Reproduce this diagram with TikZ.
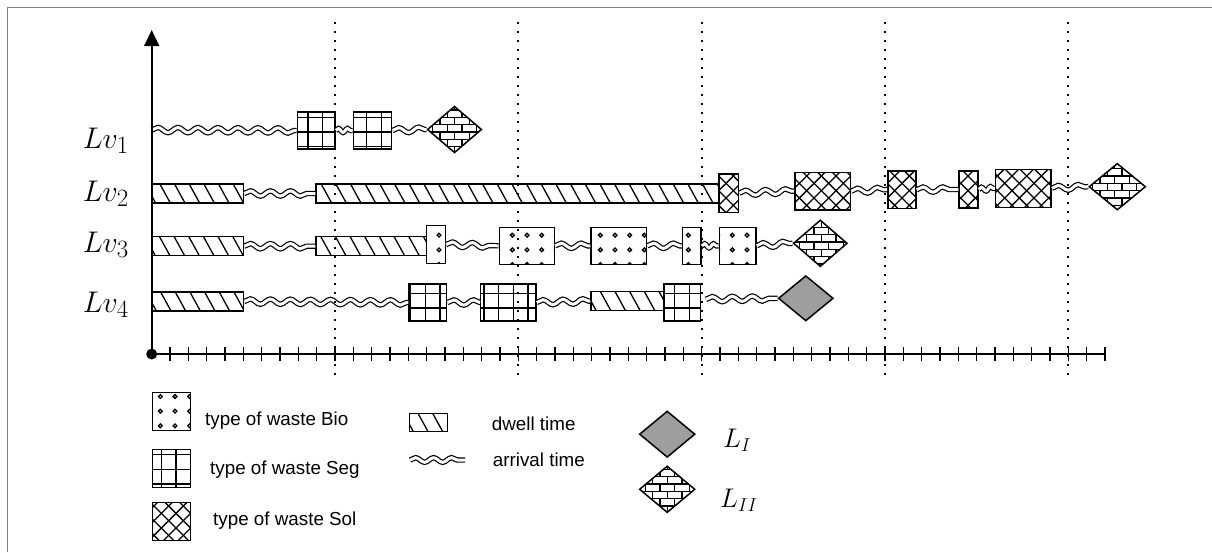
\documentclass[tikz,border=0pt]{standalone}
\usepackage{fontspec}
\setsansfont{Liberation Sans}
\usetikzlibrary{arrows.meta,shapes.geometric,decorations.pathmorphing,fit}

\def\wpp{14.6667}
\def\wph{7.3333}
\def\wpd{14.6667}
\def\wds{0.55}

% Bio: dots
\newcommand\patBio[4]{%
 \pgfmathtruncatemacro\wia{floor((#1)/\wpp)-1}%
 \pgfmathtruncatemacro\wib{ceil((#3)/\wpp)+1}%
 \pgfmathtruncatemacro\wja{floor((#2)/\wpp)-1}%
 \pgfmathtruncatemacro\wjb{ceil((#4)/\wpp)+1}%
 \foreach \i in {\wia,...,\wib}{\foreach \j in {\wja,...,\wjb}{%
   \draw[dotring] ({\i*\wpp-1},{\j*\wpp+0.5}) circle (1.9pt);}}}
% Seg: grid
\newcommand\patSeg[4]{%
 \pgfmathtruncatemacro\wia{floor((#1)/\wpp)}%
 \pgfmathtruncatemacro\wib{ceil((#3)/\wpp)}%
 \pgfmathtruncatemacro\wja{floor((#2)/\wpp)}%
 \pgfmathtruncatemacro\wjb{ceil((#4)/\wpp)}%
 \foreach \i in {\wia,...,\wib}{\draw[patline] ({\i*\wpp},#2) -- ({\i*\wpp},#4);}%
 \foreach \j in {\wja,...,\wjb}{\draw[patline] (#1,{\j*\wpp}) -- (#3,{\j*\wpp});}}
% Sol: cross hatch
\newcommand\patSol[4]{%
 \pgfmathtruncatemacro\wka{floor((#1+#2)/\wpp)}%
 \pgfmathtruncatemacro\wkb{ceil((#3+#4)/\wpp)}%
 \foreach \k in {\wka,...,\wkb}{\draw[patline] ({\k*\wpp-(#2)},#2) -- ({\k*\wpp-(#4)},#4);}%
 \pgfmathtruncatemacro\wka{floor((#1-(#4))/\wpp)}%
 \pgfmathtruncatemacro\wkb{ceil((#3-(#2))/\wpp)}%
 \foreach \k in {\wka,...,\wkb}{\draw[patline] ({\k*\wpp+(#2)},#2) -- ({\k*\wpp+(#4)},#4);}}
% Dwell: diagonal stripes
\newcommand\patDw[4]{%
 \pgfmathtruncatemacro\wka{floor((#1-\wds*(#4))/\wpd)-1}%
 \pgfmathtruncatemacro\wkb{ceil((#3-\wds*(#2))/\wpd)+1}%
 \foreach \k in {\wka,...,\wkb}{\draw[patline] ({\k*\wpd+\wds*(#2)},#2) -- ({\k*\wpd+\wds*(#4)},#4);}}
% Bricks
\newcommand\patBri[4]{%
 \pgfmathtruncatemacro\wja{floor((#2)/\wph)}%
 \pgfmathtruncatemacro\wjb{ceil((#4)/\wph)}%
 \pgfmathtruncatemacro\wia{floor((#1)/\wpp)-1}%
 \pgfmathtruncatemacro\wib{ceil((#3)/\wpp)+1}%
 \foreach \j in {\wja,...,\wjb}{%
   \draw[patline] ({#1},{\j*\wph}) -- ({#3},{\j*\wph});
   \pgfmathsetmacro\woff{mod(\j,2)*\wph}%
   \foreach \i in {\wia,...,\wib}{\draw[patline] ({\i*\wpp+\woff},{\j*\wph}) -- ({\i*\wpp+\woff},{(\j+1)*\wph});}}}

% box: name, type, x1, y1, x2, y2
\newcommand\wbox[6]{%
 \begin{scope}\clip (#3,#4) rectangle (#5,#6); \csname pat#2\endcsname{#3}{#4}{#5}{#6}\end{scope}
 \node[wboxs, fit={(#3,#4) (#5,#6)}] (#1) {};}
% brick diamond: name, cx, cy, w, h
\newcommand\wdia[5]{%
 \begin{scope}\clip ({#2-#4/2},#3) -- (#2,{#3-#5/2}) -- ({#2+#4/2},#3) -- (#2,{#3+#5/2}) -- cycle;
 \patBri{#2-#4/2}{#3-#5/2}{#2+#4/2}{#3+#5/2}\end{scope}
 \node[dias, minimum width=#4pt, minimum height=#5pt] (#1) at (#2,#3) {};}

\definecolor{diagray}{RGB}{158,158,158}
\tikzset{
 wboxs/.style={draw=black, line width=1.5pt, inner sep=0pt, rectangle},
 patline/.style={line width=1.3pt, black},
 dotring/.style={line width=1.3pt, black},
 dias/.style={diamond, draw=black, line width=1.5pt, inner sep=0pt},
 wavy/.style={decorate, decoration={snake, segment length=20pt, amplitude=2.6pt}, double distance=3.0pt, line width=1.2pt},
 wavyshort/.style={decorate, decoration={snake, segment length=9pt, amplitude=2pt}, double distance=3.0pt, line width=1.2pt},
 axisl/.style={line width=1.6pt, black},
 tickl/.style={line width=1.2pt, black},
 dotl/.style={line width=1.8pt, dash pattern=on 1.8pt off 7.2pt},
 lgtext/.style={font=\fontsize{18.8}{22}\sffamily, inner sep=0pt},
 lvlab/.style={font=\fontsize{24.88}{28}\selectfont, inner sep=0pt},
 llab/.style={font=\fontsize{20.74}{26}\selectfont, inner sep=0pt},
 framel/.style={line width=1.3pt, black!50},
}

\begin{document}
\begin{tikzpicture}[x=1pt,y=-1pt]
\useasboundingbox (0,0) rectangle (1212,552);
\draw[framel] (7.3,552) -- (7.3,7.3) -- (1212,7.3);

% ---------- Lv1
\coordinate (a1) at (151.7,130);
\wbox{s11}{Seg}{297.3}{112}{335}{149}
\wbox{s12}{Seg}{353.3}{112}{391.7}{149}
\wdia{d1}{454.5}{129.5}{54.4}{46.7}
\draw[wavy] (a1) -- (s11.west);
\draw[wavyshort] (s11.east) -- (s12.west);
\draw[wavy] (s12.east) -- (d1.west);

% ---------- Lv2
\wbox{b21}{Dw}{151.7}{184}{243.4}{203}
\wbox{b22}{Dw}{316.2}{184}{719.2}{203}
\wbox{c21}{Sol}{719.2}{174}{738.5}{212.3}
\wbox{c22}{Sol}{794.9}{172.3}{850.5}{210}
\wbox{c23}{Sol}{887.9}{171}{915.9}{208.3}
\wbox{c24}{Sol}{959}{171}{978}{208}
\wbox{c25}{Sol}{995.6}{169.3}{1051.2}{207.3}
\wdia{d2}{1117.3}{186.7}{56.7}{46.7}
\draw[wavy] (b21.east) -- (b22.west);
\draw[wavy] (c21.east) -- (c22.west);
\draw[wavy] (c22.east) -- (c23.west);
\draw[wavy] (c23.east) -- (c24.west);
\draw[wavyshort] (c24.east) -- (c25.west);
\draw[wavy] (c25.east) -- (d2.west);

% ---------- Lv3
\wbox{b31}{Dw}{151.7}{236.7}{243.4}{255.7}
\wbox{b32}{Dw}{316.2}{236.7}{426.6}{255.7}
\wbox{e31}{Bio}{426.6}{225.7}{445.4}{263.3}
\wbox{e32}{Bio}{499.3}{227.3}{554.3}{264.3}
\wbox{e33}{Bio}{591}{227.3}{646.5}{264.3}
\wbox{e34}{Bio}{682.5}{227.3}{701}{264.3}
\wbox{e35}{Bio}{719.3}{227.3}{756}{264.3}
\wdia{d3}{820.3}{243.3}{54}{46.7}
\draw[wavy] (b31.east) -- (b32.west);
\draw[wavy] (e31.east) -- (e32.west);
\draw[wavy] (e32.east) -- (e33.west);
\draw[wavy] (e33.east) -- (e34.west);
\draw[wavyshort] (e34.east) -- (e35.west);
\draw[wavy] (e35.east) -- (d3.west);

% ---------- Lv4
\wbox{b41}{Dw}{151.7}{292}{243.4}{311}
\wbox{s41}{Seg}{409}{284}{446.7}{321}
\wbox{s42}{Seg}{480.7}{284}{536}{321}
\wbox{b42}{Dw}{591}{291.7}{664}{310.7}
\wbox{s43}{Seg}{664}{284}{700.7}{321}
\coordinate (w4) at (706,299.3);
\node[dias, fill=diagray, minimum width=55pt, minimum height=45.3pt] (d4) at (805.8,298.3) {};
\draw[wavy] (b41.east) -- (s41.west);
\draw[wavy] (s41.east) -- (s42.west);
\draw[wavy] (s42.east) -- (b42.west);
\draw[wavy] (w4) -- (d4.west);

% ---------- labels
\node[lvlab, anchor=base east] (lv1) at (129,148) {\scalebox{1.2}{$Lv_1$}};
\node[lvlab, anchor=base east] (lv2) at (129,201) {\scalebox{1.2}{$Lv_2$}};
\node[lvlab, anchor=base east] (lv3) at (129,252) {\scalebox{1.2}{$Lv_3$}};
\node[lvlab, anchor=base east] (lv4) at (129,312) {\scalebox{1.2}{$Lv_4$}};

% ---------- dotted time lines
\foreach \n/\xx in {1/335,2/518.3,3/701.7,4/885,5/1068.3}{
  \coordinate (vt\n) at (\xx,22);
  \coordinate (vb\n) at (\xx,380);
  \draw[dotl] (vt\n) -- (vb\n);
}

% ---------- axes
\coordinate (O) at (151.7,354);
\coordinate (ytop) at (151.7,30);
\coordinate (xend) at (1104,354);
\draw[axisl, -{Triangle[width=15pt,length=16pt]}] (O) -- (ytop);
\draw[axisl, line width=1.8pt] (O) -- (xend);
\foreach \k in {1,...,52}{\draw[tickl] ({151.7+\k*18.333},347.3) -- ({151.7+\k*18.333},360.7);}
\fill (O) circle (5.5pt);

% ---------- legend
\wbox{lgbio}{Bio}{152.7}{392.3}{190.7}{430.7}
\wbox{lgseg}{Seg}{152.7}{449.3}{190.7}{487.3}
\wbox{lgsol}{Sol}{152.7}{502.7}{190.7}{540.7}
\node[lgtext, anchor=base west] (tbio) at (205,425.7) {type of waste Bio};
\node[lgtext, anchor=base west] (tseg) at (210,474.3) {type of waste Seg};
\node[lgtext, anchor=base west] (tsol) at (213,525) {type of waste Sol};

\wbox{lgdw}{Dw}{409.3}{413.3}{447.3}{431.7}
\coordinate (lw1) at (410,460);
\coordinate (lw2) at (465,460);
\draw[wavy, decoration={snake, segment length=18pt, amplitude=2.3pt}] (lw1) -- (lw2);
\node[lgtext, anchor=base west] (tdw) at (491.7,430) {dwell time};
\node[lgtext, anchor=base west] (tarr) at (492.7,466.7) {arrival time};

\node[dias, fill=diagray, minimum width=55.7pt, minimum height=46.3pt] (lgl1) at (667.2,434.2) {};
\wdia{lgl2}{667.2}{489.3}{55.7}{46.7}
\node[llab, anchor=base west] (tl1) at (723,447) {\scalebox{1.3}{$L_{I}$}};
\node[llab, anchor=base west] (tl2) at (720,507) {\scalebox{1.3}{$L_{II}$}};
\end{tikzpicture}
\end{document}
